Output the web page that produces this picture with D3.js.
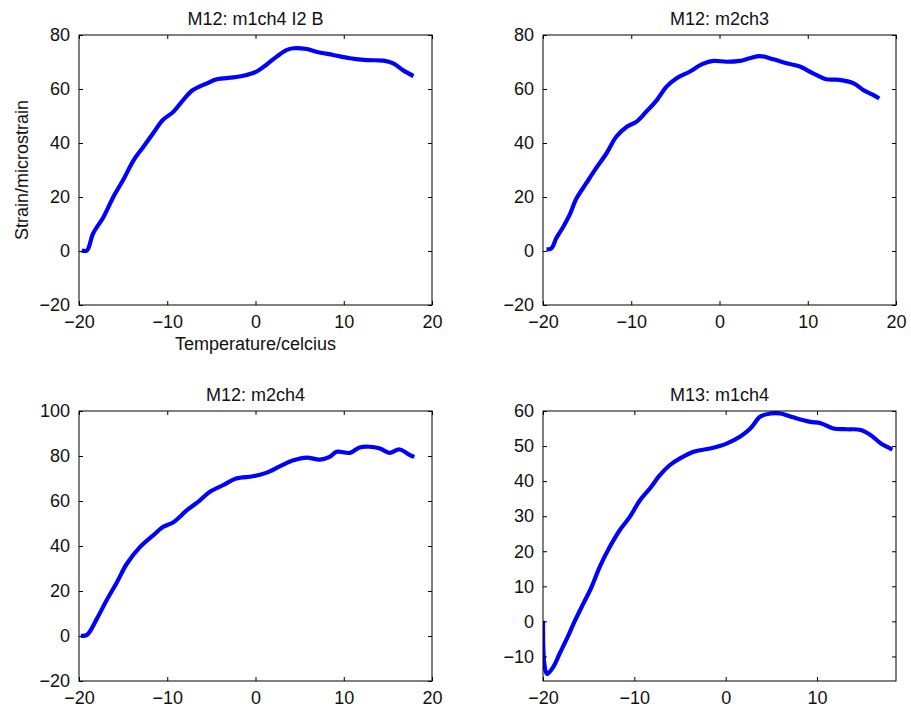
<!DOCTYPE html>
<html>
<head>
<meta charset="utf-8">
<script src="https://cdn.jsdelivr.net/npm/d3@7"></script>
<style>
  body { margin: 0; background: #fff; }
  svg { display: block; font-family: "Liberation Sans", Arial, Helvetica, sans-serif; }
</style>
</head>
<body>
<div id="chart"></div>
<script>
// Values, temperature (celcius) vs strain (microstrain)
const titles = ["M12: m1ch4 I2 B", "M12: m2ch3", "M12: m2ch4", "M13: m1ch4"];

const temp1 = [-19.7, -19.1, -18.4, -17.2, -16.1, -15.0, -13.8, -12.7, -11.6, -10.5, -9.3, -8.2, -7.1, -5.5, -4.4, -2.5, -1.0, 0.1, 1.2, 2.4, 3.5, 4.3, 5.8, 6.9, 8.8, 10.7, 12.6, 14.5, 15.6, 16.7, 17.9];
const strain1 = [0.2, 0.2, 6.5, 12.7, 20.1, 26.3, 33.7, 38.6, 43.6, 48.5, 51.6, 55.9, 59.6, 62.1, 63.6, 64.3, 65.2, 66.4, 68.9, 72.0, 74.4, 75.1, 74.8, 73.8, 72.6, 71.4, 70.7, 70.5, 69.5, 67.0, 64.8];

const temp2 = [-19.6, -19.05, -18.5, -17.7, -17.0, -16.2, -15.1, -14.0, -12.8, -11.7, -10.5, -9.4, -8.3, -7.1, -6.0, -4.9, -3.4, -1.9, -0.7, 0.8, 2.3, 3.4, 4.6, 6.1, 7.6, 9.1, 10.6, 12.1, 13.6, 15.2, 16.3, 17.4, 18.1];
const strain2 = [0.6, 1.0, 4.7, 9.0, 13.3, 19.5, 25.1, 30.6, 36.2, 42.3, 46.0, 47.9, 51.6, 55.9, 60.9, 63.9, 66.4, 69.3, 70.4, 70.1, 70.4, 71.4, 72.2, 71.0, 69.5, 68.3, 65.8, 63.6, 63.4, 62.1, 59.6, 57.8, 56.5];

const temp3 = [-19.8, -19.1, -18.0, -16.9, -15.7, -14.6, -13.1, -11.6, -10.5, -9.3, -7.8, -6.3, -5.2, -3.7, -2.2, -0.3, 1.2, 2.8, 4.3, 5.8, 7.3, 8.4, 9.2, 10.7, 11.8, 12.9, 14.1, 15.2, 16.3, 17.5, 18.0];
const strain3 = [0.1, 0.5, 7.5, 15.7, 23.9, 32.0, 39.5, 44.7, 48.4, 50.6, 55.8, 60.3, 64.0, 67.0, 70.0, 71.0, 72.5, 75.5, 78.1, 79.3, 78.4, 79.6, 81.9, 81.4, 83.8, 84.1, 83.3, 81.4, 82.9, 80.4, 79.6];

const temp4 = [-20.0, -19.85, -19.56, -18.9, -18.2, -17.4, -16.5, -15.6, -14.7, -13.8, -12.7, -11.6, -10.5, -9.4, -8.3, -7.2, -6.1, -5.0, -3.5, -1.7, 0.1, 1.6, 2.7, 3.8, 4.9, 6.0, 7.4, 9.3, 10.4, 11.8, 13.3, 14.8, 15.9, 17.0, 18.25];
const strain4 = [0.2, -12.2, -15.0, -13.1, -9.3, -5.0, 0.2, 5.0, 9.7, 15.5, 21.2, 26.0, 29.8, 34.5, 37.9, 41.7, 44.6, 46.5, 48.4, 49.3, 50.7, 52.7, 55.0, 58.4, 59.3, 59.3, 58.2, 56.9, 56.5, 55.0, 54.8, 54.6, 53.1, 50.7, 49.0];

const xDomains = [[-20, 20], [-20, 20], [-20, 20], [-20, 18.65]];
const yDomains = [[-20, 80], [-20, 80], [-20, 100], [-17, 60]];
const xTickVals = [[-20, -10, 0, 10, 20], [-20, -10, 0, 10, 20], [-20, -10, 0, 10, 20], [-20, -10, 0, 10]];
const yTickVals = [[-20, 0, 20, 40, 60, 80], [-20, 0, 20, 40, 60, 80], [-20, 0, 20, 40, 60, 80, 100], [-10, 0, 10, 20, 30, 40, 50, 60]];

const temps = [temp1, temp2, temp3, temp4];
const strains = [strain1, strain2, strain3, strain4];

const width = 911, height = 707;
const panelW = 353, panelH = 270;
const lefts = [79, 543, 79, 543];
const tops = [35, 35, 411, 411];
const tickLen = 4;
const fontSize = 18;

const svg = d3.select("#chart").append("svg")
    .attr("width", width)
    .attr("height", height);

titles.forEach((title, i) => {
  const x = d3.scaleLinear().domain(xDomains[i]).range([0, panelW]);
  const y = d3.scaleLinear().domain(yDomains[i]).range([panelH, 0]);

  const g = svg.append("g").attr("transform", `translate(${lefts[i]},${tops[i]})`);

  // clip the data to the axes box
  g.append("clipPath").attr("id", "clip" + i)
    .append("rect").attr("width", panelW).attr("height", panelH);

  const pts = temps[i].map((t, k) => [t, strains[i][k]]);
  const line = d3.line()
      .x(d => x(d[0]))
      .y(d => y(d[1]))
      .curve(d3.curveCatmullRom);

  g.append("path")
    .datum(pts)
    .attr("clip-path", `url(#clip${i})`)
    .attr("fill", "none")
    .attr("stroke", "#0000ff")
    .attr("stroke-width", 4.2)
    .attr("stroke-linejoin", "round")
    .attr("d", line);

  // inward ticks on all four sides, MATLAB box style
  const fmt = d3.format("d");
  const axes = [
    d3.axisBottom(x).tickValues(xTickVals[i]).tickSizeInner(-tickLen).tickSizeOuter(0).tickPadding(10).tickFormat(fmt),
    d3.axisTop(x).tickValues(xTickVals[i]).tickSizeInner(-tickLen).tickSizeOuter(0).tickFormat(""),
    d3.axisLeft(y).tickValues(yTickVals[i]).tickSizeInner(-tickLen).tickSizeOuter(0).tickPadding(9).tickFormat(fmt),
    d3.axisRight(y).tickValues(yTickVals[i]).tickSizeInner(-tickLen).tickSizeOuter(0).tickFormat("")
  ];
  const shifts = [`translate(0,${panelH})`, "translate(0,0)", "translate(0,0)", `translate(${panelW},0)`];
  axes.forEach((ax, k) => {
    const a = g.append("g").attr("transform", shifts[k]).call(ax);
    a.select(".domain").remove();
    a.selectAll("line").attr("stroke", "#000");
    a.selectAll("text")
      .attr("fill", "#111")
      .style("font-size", fontSize + "px")
      .style("font-family", "'Liberation Sans', Arial, sans-serif");
  });

  g.append("rect")
    .attr("width", panelW).attr("height", panelH)
    .attr("fill", "none").attr("stroke", "#000").attr("stroke-width", 1);

  g.append("text")
    .attr("x", panelW / 2).attr("y", -10)
    .attr("text-anchor", "middle")
    .style("font-size", fontSize + "px")
    .attr("fill", "#111")
    .text(title);

  if (i === 0) {
    g.append("text")
      .attr("x", panelW / 2).attr("y", panelH + 45)
      .attr("text-anchor", "middle")
      .style("font-size", fontSize + "px")
      .attr("fill", "#111")
      .text("Temperature/celcius");
    g.append("text")
      .attr("transform", `translate(-51,${panelH / 2}) rotate(-90)`)
      .attr("text-anchor", "middle")
      .style("font-size", fontSize + "px")
      .attr("fill", "#111")
      .text("Strain/microstrain");
  }
});
</script>
</body>
</html>
